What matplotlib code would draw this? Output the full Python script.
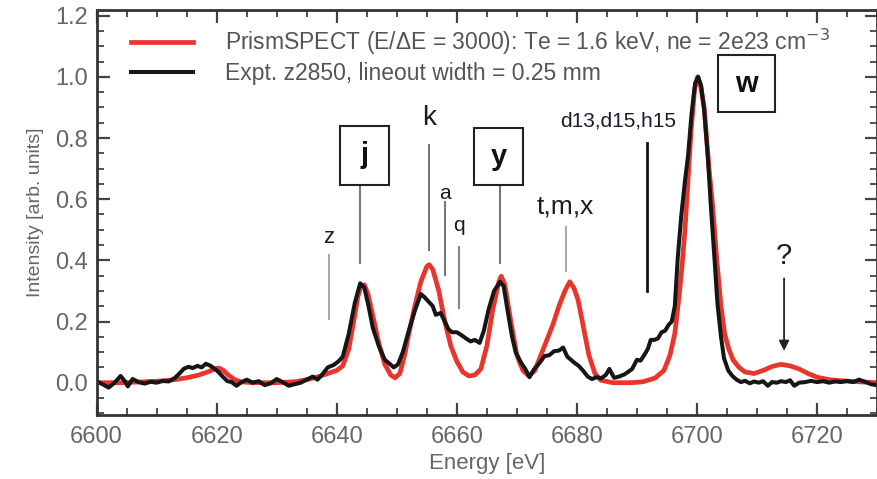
import numpy as np
import matplotlib.pyplot as plt
from matplotlib.ticker import MultipleLocator
from matplotlib.patches import Rectangle
from matplotlib.transforms import ScaledTranslation

plt.rcParams['font.family'] = ['Liberation Sans', 'DejaVu Sans']

# PrismSPECT calculation
e_calc = [6600, 6604, 6608, 6611, 6613, 6615, 6617, 6618.5, 6619.5, 6620.3, 6621, 6622, 6623, 6624,
          6626, 6630, 6633, 6635, 6637, 6638.5, 6640, 6641, 6642, 6643, 6643.5, 6644, 6644.6,
          6645.2, 6646, 6647, 6648, 6649, 6649.7, 6650.5, 6651.3, 6652, 6653, 6654, 6655, 6655.4,
          6656, 6657, 6658, 6659, 6660, 6661, 6662, 6663, 6664, 6665, 6666, 6667, 6667.4, 6668,
          6669, 6670, 6671, 6672, 6673, 6674, 6675, 6676, 6677, 6678, 6678.8, 6679.5, 6680.2,
          6681, 6682, 6683, 6684, 6686, 6689, 6691, 6693, 6694.5, 6695.5, 6696.3, 6697, 6697.5,
          6698, 6698.5, 6699, 6699.6, 6700.1, 6700.6, 6701.2, 6702, 6702.6, 6703.3, 6704, 6704.6,
          6705.3, 6706, 6707, 6708, 6709.5, 6711, 6712.5, 6714, 6715.5, 6717, 6718.5, 6720, 6722,
          6725, 6730]
i_calc = [0.0, 0.0, 0.003, 0.006, 0.01, 0.016, 0.025, 0.035, 0.044, 0.048, 0.042, 0.024, 0.01, 0.003,
          0.0, 0.0, 0.003, 0.01, 0.02, 0.03, 0.04, 0.055, 0.11, 0.22, 0.28, 0.315, 0.32,
          0.29, 0.22, 0.13, 0.06, 0.025, 0.016, 0.03, 0.09, 0.16, 0.25, 0.33, 0.38, 0.386,
          0.37, 0.3, 0.2, 0.12, 0.07, 0.035, 0.022, 0.025, 0.045, 0.12, 0.24, 0.33, 0.348, 0.32,
          0.2, 0.09, 0.04, 0.022, 0.04, 0.09, 0.14, 0.19, 0.25, 0.3, 0.33, 0.31, 0.27,
          0.19, 0.09, 0.03, 0.008, 0.0, 0.0, 0.003, 0.015, 0.04, 0.09, 0.16, 0.28, 0.38,
          0.5, 0.66, 0.82, 0.96, 1.0, 0.97, 0.9, 0.7, 0.58, 0.4, 0.25, 0.16,
          0.11, 0.075, 0.05, 0.035, 0.03, 0.04, 0.053, 0.06, 0.055, 0.045, 0.03, 0.018, 0.01,
          0.005, 0.0]

# experimental lineout z2850
e_expt = [6600, 6601, 6602, 6603, 6604, 6604.7, 6605.2, 6606, 6607, 6608, 6609, 6610, 6611, 6612,
          6613, 6613.8, 6614.5, 6615.3, 6616, 6616.8, 6617.5, 6618.2, 6619, 6619.7, 6620.3, 6621,
          6621.8, 6622.5, 6623.3, 6624, 6625, 6626, 6627, 6628, 6629, 6630, 6631, 6632, 6633,
          6634, 6635, 6636, 6636.8, 6637.5, 6638.5, 6639.5, 6640.3, 6641, 6642, 6643, 6643.9,
          6644.6, 6645.3, 6646, 6647, 6648, 6648.8, 6649.5, 6650.2, 6651, 6652, 6653, 6654,
          6654.6, 6655.3, 6656, 6656.5, 6657.3, 6658, 6658.6, 6659.2, 6660, 6660.8, 6661.5,
          6662.3, 6663, 6663.8, 6664.5, 6665.3, 6666.2, 6667.2, 6667.8, 6668.5, 6669.2, 6669.8,
          6670.7, 6671.4, 6672.1, 6672.9, 6673.8, 6674.6, 6675.4, 6676.2, 6677, 6677.7, 6678.4,
          6679, 6679.6, 6680.3, 6681, 6681.8, 6682.5, 6683.3, 6684, 6684.8, 6685.4, 6686.2,
          6687, 6687.9, 6688.5, 6689.2, 6690, 6690.6, 6691.2, 6691.8, 6692.3, 6692.9, 6693.5,
          6694.1, 6694.7, 6695.3, 6695.8, 6696.3, 6696.8, 6697.4, 6698, 6698.5, 6699.1, 6699.7,
          6700.2, 6700.7, 6701.2, 6701.8, 6702.3, 6702.9, 6703.4, 6704, 6704.5, 6705.2, 6705.9,
          6706.6, 6707.3, 6708, 6708.8, 6709.5, 6710.3, 6711, 6711.8, 6712.5, 6713.3, 6714,
          6714.8, 6715.5, 6716.2, 6717, 6718, 6719, 6720, 6721, 6722, 6723, 6724, 6725, 6726,
          6727, 6728, 6729, 6730]
i_expt = [0.005, -0.005, -0.016, 0.0, 0.022, 0.005, -0.012, 0.012, 0.002, -0.003, 0.003, 0.0, 0.006, 0.004,
          0.015, 0.03, 0.045, 0.052, 0.048, 0.055, 0.05, 0.062, 0.055, 0.045, 0.035, 0.02,
          0.005, 0.002, -0.01, 0.0, 0.01, 0.0, 0.005, -0.008, -0.002, 0.012, 0.002, -0.01, -0.005,
          0.0, 0.01, 0.02, 0.01, 0.025, 0.05, 0.058, 0.07, 0.085, 0.16, 0.26, 0.325,
          0.31, 0.25, 0.18, 0.12, 0.075, 0.062, 0.05, 0.06, 0.1, 0.17, 0.235, 0.29,
          0.28, 0.265, 0.25, 0.222, 0.228, 0.2, 0.175, 0.165, 0.165, 0.155, 0.145,
          0.135, 0.14, 0.13, 0.17, 0.24, 0.3, 0.33, 0.315, 0.23, 0.15, 0.1,
          0.065, 0.045, 0.018, 0.045, 0.065, 0.087, 0.09, 0.103, 0.105, 0.115, 0.085,
          0.075, 0.065, 0.055, 0.04, 0.02, 0.012, 0.018, 0.014, 0.025, 0.045, 0.016,
          0.02, 0.027, 0.035, 0.045, 0.075, 0.072, 0.09, 0.11, 0.14, 0.14, 0.145,
          0.165, 0.17, 0.19, 0.2, 0.25, 0.41, 0.55, 0.66, 0.74, 0.88, 0.98,
          1.0, 0.97, 0.89, 0.74, 0.58, 0.41, 0.26, 0.15, 0.08, 0.04, 0.022,
          0.01, 0.002, 0.006, -0.002, 0.004, 0.0, 0.005, -0.01, 0.002, 0.0, 0.005,
          0.002, 0.008, -0.01, 0.0, 0.002, 0.006, 0.002, 0.005, 0.0, 0.004, 0.002, 0.006, 0.002,
          0.01, 0.003, -0.005, -0.008]

# line identifications: label, energy, line bottom, line top, label height
lbl_names = ['z', 'k', 'a', 'q', 't,m,x']
lbl_energy = [6638.7, 6655.4, 6658.1, 6660.3, 6678.1]
lbl_lo = [0.207, 0.435, 0.353, 0.245, 0.364]
lbl_hi = [0.418, 0.777, 0.59, 0.445, 0.51]
lbl_text_y = [0.475, 0.865, 0.62, 0.515, 0.575]
lbl_size = [16, 20, 15, 15, 19]
lbl_col = ['#aaa', '#777', '#777', '#888', '#aaa']

# boxed (strong) lines
box_names = ['j', 'y', 'w']
box_energy = [6644.6, 6667.0, 6708.2]
box_y = [0.743, 0.739, 0.978]
box_w = [0.49, 0.49, 0.57]
box_h = [0.59, 0.57, 0.57]
box_line_lo = [0.39, 0.39]
box_line_e = [6643.9, 6667.2]

fig = plt.figure(figsize=(8.78, 4.79), dpi=100)
ax = fig.add_axes([0.110, 0.134, 0.889, 0.846])

ax.plot(e_calc, i_calc, color='#e8362c', lw=3.4, label='PrismSPECT (E/\u0394E = 3000): Te = 1.6 keV, ne = 2e23 cm$^{-3}$')
ax.plot(e_expt, i_expt, color='#161616', lw=2.9, label='Expt. z2850, lineout width = 0.25 mm')

ax.set_xlim(6600, 6730)
ax.set_ylim(-0.105, 1.22)
ax.xaxis.set_major_locator(MultipleLocator(20))
ax.xaxis.set_minor_locator(MultipleLocator(5))
ax.yaxis.set_major_locator(MultipleLocator(0.2))
ax.yaxis.set_minor_locator(MultipleLocator(0.05))
ax.tick_params(which='both', direction='in', top=True, right=True, colors='#444', labelcolor='#666')
ax.tick_params(which='major', length=9, width=1.6, labelsize=17)
ax.tick_params(which='minor', length=5, width=1.3)
ax.tick_params(axis='x', which='major', pad=8)
ax.tick_params(axis='y', which='major', pad=6)
ax.yaxis.set_major_formatter(plt.FormatStrFormatter('%.1f'))
for s in ax.spines.values():
    s.set_color('#333')
    s.set_linewidth(2)

ax.set_xlabel('Energy [eV]', fontsize=16, color='#666', labelpad=4)
ax.set_ylabel('Intensity [arb. units]', fontsize=14, color='#666', labelpad=8)

leg = ax.legend(loc='upper left', bbox_to_anchor=(0.022, 1.0), frameon=False, fontsize=16.5,
                handlelength=2.7, handletextpad=1.4, labelspacing=0.2, borderaxespad=0.35)
for t in leg.get_texts():
    t.set_color('#555')

for name, e, lo, hi, ty, fs, c in zip(lbl_names, lbl_energy, lbl_lo, lbl_hi, lbl_text_y, lbl_size, lbl_col):
    ax.plot([e, e], [lo, hi], color=c, lw=1.5)
    ax.text(e, ty, name, fontsize=fs, color='#1b1b2b', ha='center', va='center')

for name, e, y, w, h in zip(box_names, box_energy, box_y, box_w, box_h):
    tr = fig.dpi_scale_trans + ScaledTranslation(e, y, ax.transData)
    ax.add_patch(Rectangle((-w / 2, -h / 2), w, h, transform=tr, fc='white', ec='#222', lw=1.5, zorder=4))
    ax.text(e, y, name, fontsize=21, fontweight='bold', color='#111', ha='center', va='center', zorder=5)
for e, y, h, lo in zip(box_line_e, box_y[:2], box_h[:2], box_line_lo):
    ax.plot([e, e], [lo, y - h * 100 / 2 / 306.6], color='#777', lw=1.5)

# d13,d15,h15 satellites
ax.plot([6691.6, 6691.6], [0.3, 0.783], color='#111', lw=2)
ax.text(6686.8, 0.855, 'd13,d15,h15', fontsize=15, color='#1b1b2b', ha='center', va='center')

# unidentified feature
ax.annotate('', xy=(6714.5, 0.095), xytext=(6714.5, 0.35),
            arrowprops=dict(arrowstyle='-|>', color='#222', lw=1.3, mutation_scale=15))
ax.text(6714.4, 0.415, '?', fontsize=21, color='#1b1b2b', ha='center', va='center')

fig.savefig('out.png', dpi=100)
